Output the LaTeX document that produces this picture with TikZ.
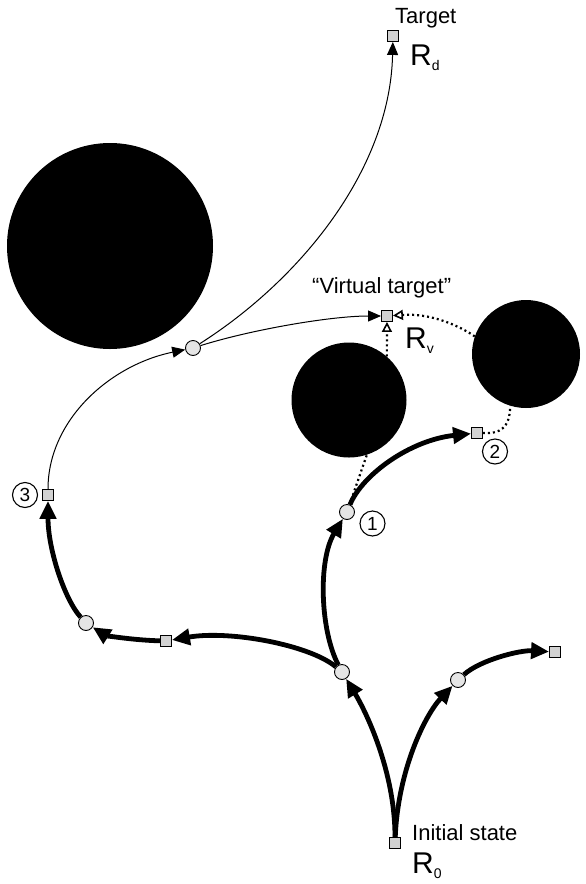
\documentclass[tikz,border=0pt]{standalone}
\usepackage{fontspec}
\setmainfont{Liberation Sans}
\usetikzlibrary{arrows.meta}
\begin{document}
\begin{tikzpicture}[x=1pt,y=-1pt,
  sq/.style={rectangle,draw,line width=0.9pt,fill=gray!35,minimum size=11pt,inner sep=0pt},
  dotn/.style={circle,draw,line width=0.9pt,fill=gray!20,minimum size=15pt,inner sep=0pt},
  boldpath/.style={line width=4.8pt,-{Triangle[length=18pt,width=16pt]}},
  thinpath/.style={line width=1pt,-{Triangle[length=13pt,width=11pt]}},
  dotpath/.style={line width=2.2pt,dash pattern=on 2pt off 3pt},
  opentip/.style={-{Triangle[open,length=10pt,width=10pt,line width=1.6pt]}},
  obst/.style={circle,fill=black,draw=none,inner sep=0pt},
  numc/.style={circle,draw,line width=1.1pt,minimum size=25pt,inner sep=0pt,font=\fontsize{19}{19}\selectfont},
  lbl/.style={font=\fontsize{22}{26}\selectfont,inner sep=0pt},
  rlbl/.style={font=\fontsize{30}{30}\selectfont,inner sep=0pt},
]
\useasboundingbox (0,0) rectangle (586,884);
% obstacles
\node[obst,minimum size=206pt] (ob0) at (110,246) {};
\node[obst,minimum size=115pt] (ob1) at (349,400) {};
\node[obst,minimum size=108pt] (ob2) at (526,354) {};
% markers
\node[sq] (R0) at (395,843) {};
\node[dotn] (L1) at (342,672) {};
\node[dotn] (R1) at (458,680) {};
\node[sq] (SR) at (555,652) {};
\node[sq] (SM) at (166,641) {};
\node[dotn] (CL) at (86,623) {};
\node[sq] (S3) at (48,495) {};
\node[dotn] (C1) at (347,512) {};
\node[sq] (S2) at (477,433) {};
\node[dotn] (CT) at (193,348) {};
\node[sq] (VT) at (387,316) {};
\node[sq] (TG) at (393,36) {};
% labels
\node[lbl,anchor=base west] (tTarget) at (395,23) {Target};
\node[rlbl,anchor=base west] (tRd) at (410,65) {R{\fontsize{14}{14}\selectfont\raisebox{-5pt}{d}}};
\node[lbl,anchor=base west] (tVT) at (312,293) {“Virtual target”};
\node[rlbl,anchor=base west] (tRv) at (405,348) {R{\fontsize{14}{14}\selectfont\raisebox{-5pt}{v}}};
\node[lbl,anchor=base west] (tInit) at (412,840) {Initial state};
\node[rlbl,anchor=base west] (tR0) at (412,873) {R{\fontsize{14}{14}\selectfont\raisebox{-5pt}{0}}};
\node[numc] (n1) at (372.5,523.5) {1};
\node[numc] (n2) at (495,451.5) {2};
\node[numc] (n3) at (25,495) {3};
% thick paths
\draw[boldpath] (R0) .. controls (395,770) and (365,710) .. (L1);
\draw[boldpath] (R0) .. controls (398,770) and (425,715) .. (R1);
\draw[boldpath] (R1) .. controls (480,660) and (520,650) .. (SR);
\draw[boldpath] (L1) .. controls (320,630) and (318,560) .. (C1);
\draw[boldpath] (L1) .. controls (310,645) and (230,630) .. (SM);
\draw[boldpath] (SM) .. controls (130,640) and (105,635) .. (CL);
\draw[boldpath] (CL) .. controls (65,600) and (48,550) .. (S3);
\draw[boldpath] (C1) .. controls (362,475) and (410,440) .. (S2);
% thin paths
\draw[thinpath] (S3) .. controls (48,420) and (110,365) .. (CT);
\draw[thinpath] (CT) .. controls (250,330) and (330,316) .. (VT);
\draw[thinpath] (CT) .. controls (300,280) and (390,170) .. (TG);
% dotted
\draw[dotpath] (C1) -- (ob1.-72);
\draw[dotpath] (S2.east) .. controls (500,434) and (510,428) .. (ob2.-107);
\draw[dotpath,opentip] (ob1.49) -- (VT);
\draw[dotpath,opentip] (ob2.161) .. controls (458,325) and (430,313) .. (VT);
\end{tikzpicture}
\end{document}
